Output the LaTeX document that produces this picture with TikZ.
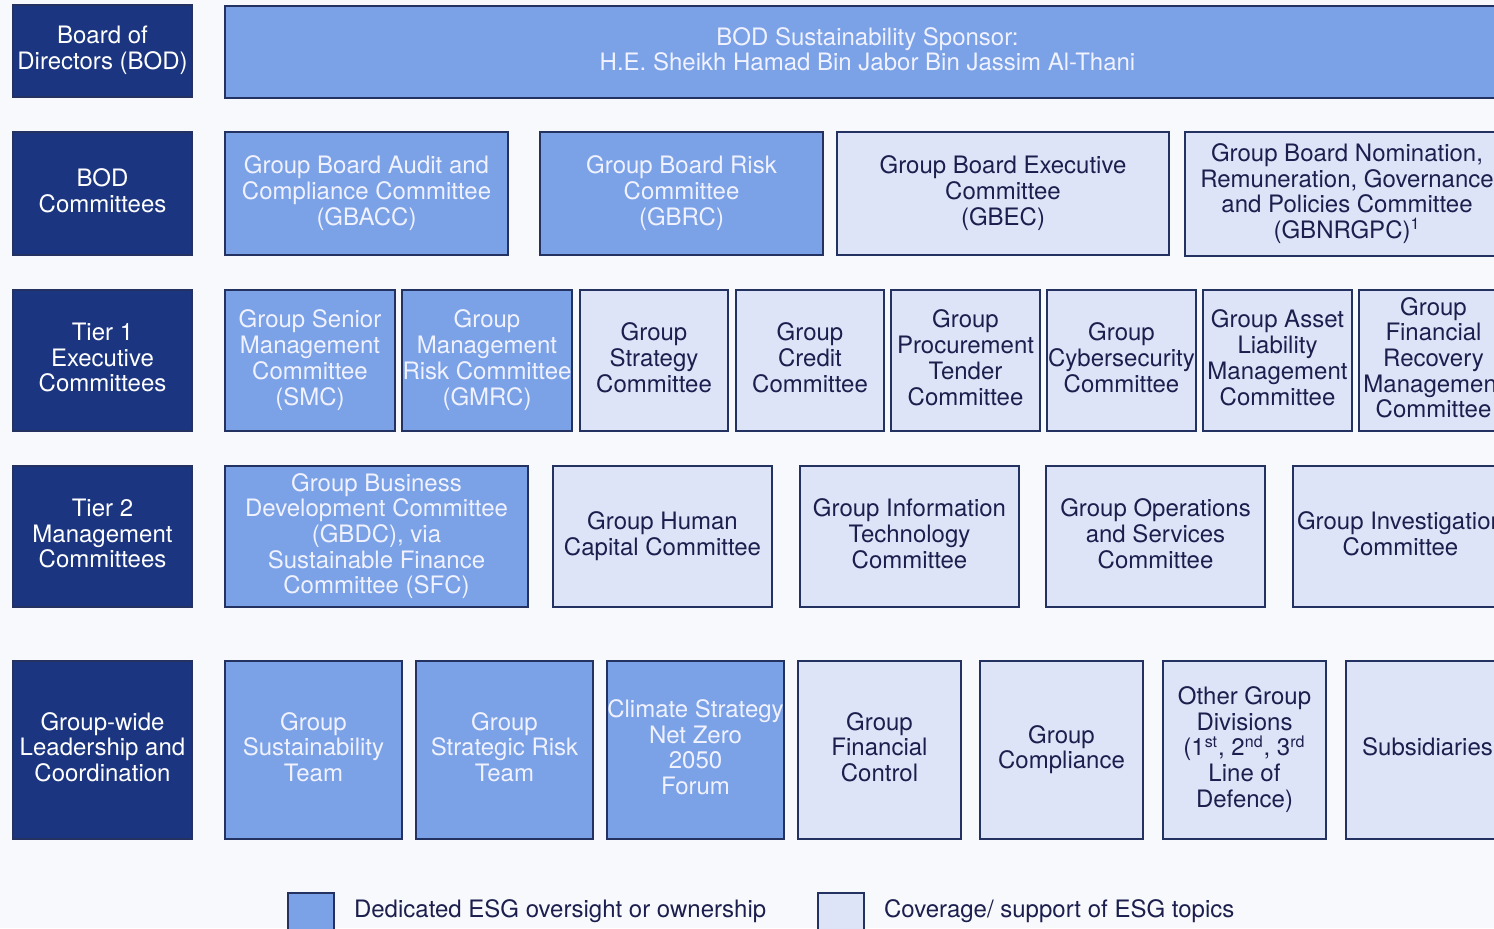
\documentclass[tikz,border=0pt]{standalone}
\usepackage{fontspec}
\setmainfont{TeX Gyre Heros}
\usepackage{xcolor}
\usetikzlibrary{positioning}
\definecolor{navy}{HTML}{1B3580}
\definecolor{midblue}{HTML}{7BA1E6}
\definecolor{paleblue}{HTML}{DEE4F7}
\definecolor{edge}{HTML}{233260}
\definecolor{ink}{HTML}{1C1F4D}
\definecolor{pale}{HTML}{F0F2FF}
\definecolor{bg}{HTML}{F8F9FD}

\tikzset{
  sz/.style 2 args={minimum width=#1*0.5pt, minimum height=#2*0.5pt},
  cell/.style={draw=edge, line width=1pt, inner sep=0pt, align=center,
    text depth=3pt, font=\fontsize{12}{12.85}\selectfont},
  tier/.style={cell, fill=navy, text=white},
  esg/.style={cell, fill=midblue, text=pale},
  cov/.style={cell, fill=paleblue, text=ink},
  key/.style={anchor=west, text=ink, font=\fontsize{12}{14}\selectfont}
}

\begin{document}
\begin{tikzpicture}[x=0.5pt, y=-0.5pt]
  \path[use as bounding box] (0,0) rectangle (1494,928);
  \clip (0,0) rectangle (1494,928);
  \fill[bg] (0,0) rectangle (1494,928);

  % level labels
  \node[tier, sz={179}{92}]  (bod)   at (102.5,51)  {Board of\\Directors (BOD)};
  \node[tier, sz={179}{123}] (bodc)  at (102.5,193.5) {BOD\\Committees};
  \node[tier, sz={179}{141}] (tierA) at (102.5,360.5) {Tier 1\\Executive\\Committees};
  \node[tier, sz={179}{141}] (tierB) at (102.5,536.5) {Tier 2\\Management\\Committees};
  \node[tier, sz={179}{178}] (lead)  at (102.5,750)   {Group-wide\\Leadership and\\Coordination};

  % board sponsor
  \node[esg, sz={1285}{92}] (sponsor) at (867.5,52)
    {BOD Sustainability Sponsor:\\H.E. Sheikh Hamad Bin Jabor Bin Jassim Al-Thani};

  % BOD committees
  \node[esg, sz={283}{123}] (gbacc)   at (366.5,193.5) {Group Board Audit and\\Compliance Committee\\(GBACC)};
  \node[esg, sz={283}{123}] (gbrc)    at (681.5,193.5) {Group Board Risk\\Committee\\(GBRC)};
  \node[cov, sz={332}{123}] (gbec)    at (1003,193.5)  {Group Board Executive\\Committee\\(GBEC)};
  \node[cov, sz={324}{124}] (gbnrgpc) at (1347,194)    {Group Board Nomination,\\Remuneration, Governance\\and Policies Committee\\(GBNRGPC)\textsuperscript{1}};

  % tier 1
  \node[esg, sz={170}{141}] (smc)   at (310,360.5)    {Group Senior\\Management\\Committee\\(SMC)};
  \node[esg, sz={170}{141}] (gmrc)  at (487,360.5)    {Group\\Management\\Risk Committee\\(GMRC)};
  \node[cov, sz={148}{141}] (strat) at (654,360.5)    {Group\\Strategy\\Committee};
  \node[cov, sz={148}{141}] (credit) at (810,360.5)   {Group\\Credit\\Committee};
  \node[cov, sz={149}{141}] (proc)  at (965.5,360.5)  {Group\\Procurement\\Tender\\Committee};
  \node[cov, sz={149}{141}] (cyber) at (1121.5,360.5) {Group\\Cybersecurity\\Committee};
  \node[cov, sz={149}{141}] (alm)   at (1277.5,360.5) {Group Asset\\Liability\\Management\\Committee};
  \node[cov, sz={149}{141}] (recov) at (1433.5,360.5) {Group\\Financial\\Recovery\\Management\\Committee};

  % tier 2
  \node[esg, sz={303}{141}] (gbdc)  at (376.5,536.5)  {Group Business\\Development Committee\\(GBDC), via\\Sustainable Finance\\Committee (SFC)};
  \node[cov, sz={219}{141}] (hcap)  at (662.5,536.5)  {Group Human\\Capital Committee};
  \node[cov, sz={219}{141}] (infot) at (909.5,536.5)  {Group Information\\Technology\\Committee};
  \node[cov, sz={219}{141}] (ops)   at (1155.5,536.5) {Group Operations\\and Services\\Committee};
  \node[cov, sz={215}{141}] (invest) at (1400.5,536.5) {Group Investigation\\Committee};

  % group-wide
  \node[esg, sz={177}{178}] (sust)  at (313.5,750)  {Group\\Sustainability\\Team};
  \node[esg, sz={177}{178}] (srisk) at (504.5,750)  {Group\\Strategic Risk\\Team};
  \node[esg, sz={177}{178}] (nzero) at (695.5,750)  {Climate Strategy\\Net Zero\\2050\\Forum};
  \node[cov, sz={163}{178}] (finc)  at (879.5,750)  {Group\\Financial\\Control};
  \node[cov, sz={163}{178}] (compl) at (1061.5,750) {Group\\Compliance};
  \node[cov, sz={163}{178}] (lod)   at (1244.5,750) {Other Group\\Divisions\\(1\textsuperscript{st}, 2\textsuperscript{nd}, 3\textsuperscript{rd}\\Line of\\Defence)};
  \node[cov, sz={163}{178}] (subs)  at (1427.5,750) {Subsidiaries};

  % legend
  \node[esg, sz={46}{44}] (keyA) at (311,915) {};
  \node[key, right=6pt of keyA.east, yshift=2pt] (keyAtxt) {Dedicated ESG oversight or ownership};
  \node[cov, sz={46}{44}] (keyB) at (841,915) {};
  \node[key, right=6pt of keyB.east, yshift=2pt] (keyBtxt) {Coverage/ support of ESG topics};
\end{tikzpicture}
\end{document}
